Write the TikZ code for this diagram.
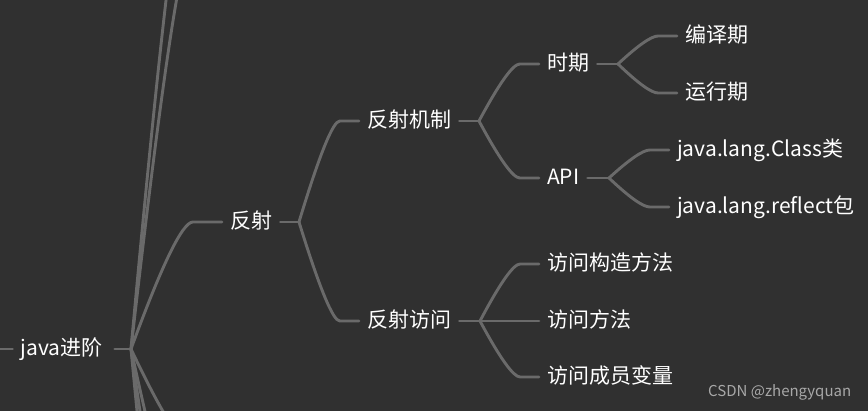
\documentclass[tikz,border=0pt]{standalone}
\usepackage{fontspec}
\setmainfont{Noto Sans CJK SC}
\usetikzlibrary{calc}
\definecolor{bgc}{HTML}{303030}
\definecolor{linec}{HTML}{6A6A6A}
\definecolor{wmc}{HTML}{A8A8A8}
\tikzset{
  conn/.style={draw=linec, line width=2.9pt, line cap=round},
  topic/.style={anchor=west, text=white, inner xsep=8pt, inner ysep=0pt,
    font=\fontsize{21}{25}\selectfont, text height=1.36em, text depth=0em},
  fork/.style={to path={let \p1=(\tikztostart), \p2=(\tikztotarget), \n1={\x2-\x1} in
    .. controls ({\x1+0.34*\n1},{\y1+0.6667*(\y2-\y1)}) and ({\x1+0.5667*\n1},\y2) .. ({\x1+0.68*\n1},\y2) -- (\tikztotarget)}}
}
\begin{document}
\begin{tikzpicture}[x=1pt,y=-1pt]
\useasboundingbox (0,0) rectangle (868,411);
\fill[bgc] (0,0) rectangle (868,411);
\clip (0,0) rectangle (868,411);
% junctions
\coordinate (j0) at (131,349);
\coordinate (j1) at (299,222);
\coordinate (j2) at (479,121);
\coordinate (j3) at (480,321);
\coordinate (j4) at (618,64);
\coordinate (j5) at (609,178);
\coordinate (lend) at (0,349);
% off-canvas siblings
\coordinate (up1) at (222,-157);
\coordinate (up2) at (222,-60);
\coordinate (dn1) at (222,447);
\coordinate (dn2) at (222,562);
\coordinate (dn3) at (222,675);
\coordinate (dn4) at (222,833);
% nodes
\node[topic, inner xsep=0pt] (root) at (20.5,349) {java进阶};
\node[topic] (fs) at (222,222) {反射};
\node[topic] (fsjz) at (359,121) {反射机制};
\node[topic] (fsfw) at (359,321) {反射访问};
\node[topic] (sq) at (539,64) {时期};
\node[topic] (api) at (539,178) {API};
\node[topic] (byq) at (677,36) {编译期};
\node[topic] (yxq) at (677,93) {运行期};
\node[topic] (cls) at (669,150) {java.lang.Class类};
\node[topic] (rfl) at (669,207) {java.lang.reflect包};
\node[topic] (gz) at (539,264) {访问构造方法};
\node[topic] (ff) at (539,321) {访问方法};
\node[topic] (cy) at (539,377) {访问成员变量};
\node[anchor=west, inner sep=0pt, text=wmc, font=\fontsize{15}{18}\selectfont] (wm) at (708,392) {CSDN @zhengyquan};
% connectors
\draw[conn] (lend) -- ([xshift=-8pt]root.west);
\draw[conn] ([xshift=12pt]root.east) -- (j0);
\draw[conn] (j0) to[fork] (up1);
\draw[conn] (j0) to[fork] (up2);
\draw[conn] (j0) to[fork] (dn1);
\draw[conn] (j0) to[fork] (dn2);
\draw[conn] (j0) to[fork] (dn3);
\draw[conn] (j0) to[fork] (dn4);
\draw[conn] (j0) to[fork] (fs.west);
\draw[conn] (fs.east) -- (j1);
\draw[conn] (j1) to[fork] (fsjz.west);
\draw[conn] (j1) to[fork] (fsfw.west);
\draw[conn] (fsjz.east) -- (j2);
\draw[conn] (j2) to[fork] (sq.west);
\draw[conn] (j2) to[fork] (api.west);
\draw[conn] (sq.east) -- (j4);
\draw[conn] (j4) to[fork] (byq.west);
\draw[conn] (j4) to[fork] (yxq.west);
\draw[conn] (api.east) -- (j5);
\draw[conn] (j5) to[fork] (cls.west);
\draw[conn] (j5) to[fork] (rfl.west);
\draw[conn] (fsfw.east) -- (j3);
\draw[conn] (j3) to[fork] (gz.west);
\draw[conn] (j3) to[fork] (ff.west);
\draw[conn] (j3) to[fork] (cy.west);
\end{tikzpicture}
\end{document}
